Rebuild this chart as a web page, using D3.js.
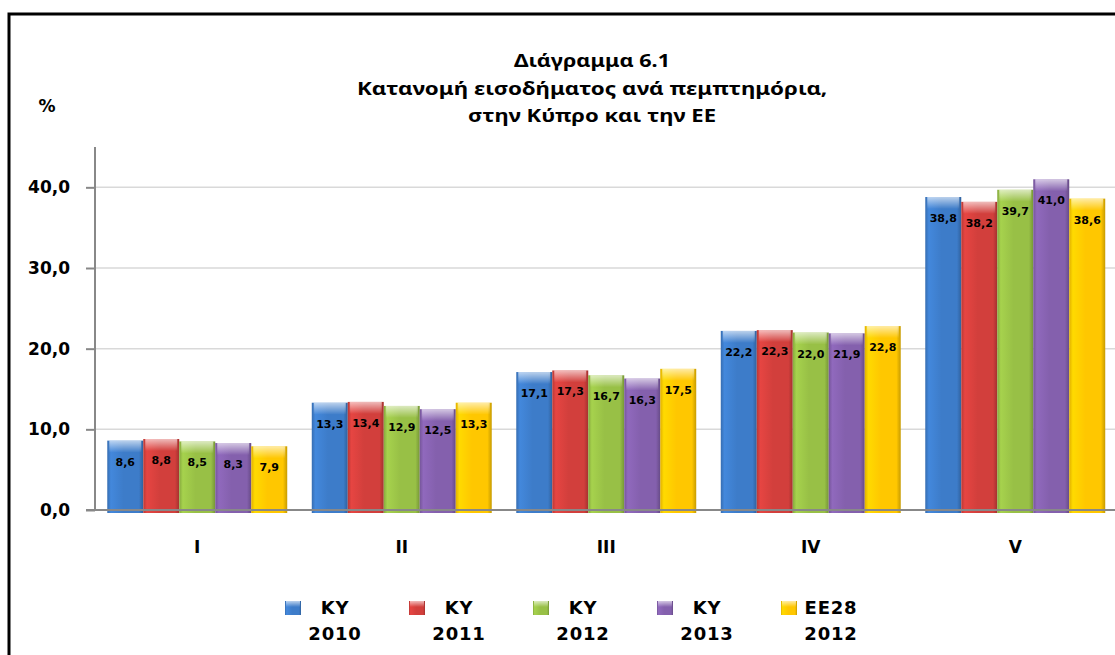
<!DOCTYPE html>
<html>
<head>
<meta charset="utf-8">
<script src="https://cdn.jsdelivr.net/npm/d3@7"></script>
<style>
  body { margin: 0; background: #fff; }
  text { font-family: "DejaVu Sans", sans-serif; font-weight: bold; fill: #000; }
  .title { font-family: "Noto Sans", sans-serif; }
</style>
</head>
<body>
<script>
// data
const categories = ["I", "II", "III", "IV", "V"];
const seriesNames = ["KY 2010", "KY 2011", "KY 2012", "KY 2013", "EE28 2012"];
const ky2010 = [8.6, 13.3, 17.1, 22.2, 38.8];
const ky2011 = [8.8, 13.4, 17.3, 22.3, 38.2];
const ky2012 = [8.5, 12.9, 16.7, 22.0, 39.7];
const ky2013 = [8.3, 12.5, 16.3, 21.9, 41.0];
const ee2012 = [7.9, 13.3, 17.5, 22.8, 38.6];
const yTicks = [0, 10, 20, 30, 40];
const colors = ["#3d7cc9", "#d23f3c", "#98c046", "#8460ad", "#ffc700"];
const titleLines = ["Διάγραμμα 6.1", "Κατανομή  εισοδήματος ανά πεμπτημόρια,", "στην Κύπρο και την ΕΕ"];

const allSeries = [ky2010, ky2011, ky2012, ky2013, ee2012];

const width = 1115, height = 655;
const plot = {left: 95, right: 1117.5, top: 147, bottom: 510};

const svg = d3.select("body").append("svg")
    .attr("width", width).attr("height", height);

// frame (runs off the right/bottom of the picture)
svg.append("rect")
    .attr("x", 9).attr("y", 14).attr("width", 1130).attr("height", 700)
    .attr("fill", "#fff").attr("stroke", "#000").attr("stroke-width", 3);

const x0 = d3.scaleBand().domain(categories)
    .range([plot.left, plot.right]).paddingInner(0.12).paddingOuter(0.06);
const x1 = d3.scaleBand().domain(seriesNames).range([0, x0.bandwidth()]);
const y = d3.scaleLinear().domain([0, 45]).range([plot.bottom, plot.top]);

const fmt = v => d3.format(".1f")(v).replace(".", ",");

// gradients for the bevelled bars
const defs = svg.append("defs");
colors.forEach((c, i) => {
    const g = defs.append("linearGradient").attr("id", "side" + i)
        .attr("x1", "0").attr("x2", "1").attr("y1", "0").attr("y2", "0");
    g.append("stop").attr("offset", "0%").attr("stop-color", d3.color(c).darker(0.35));
    g.append("stop").attr("offset", "10%").attr("stop-color", d3.color(c).brighter(0.25));
    g.append("stop").attr("offset", "45%").attr("stop-color", c);
    g.append("stop").attr("offset", "88%").attr("stop-color", c);
    g.append("stop").attr("offset", "100%").attr("stop-color", d3.color(c).darker(0.7));
});
const cap = defs.append("linearGradient").attr("id", "cap")
    .attr("x1", "0").attr("x2", "0").attr("y1", "0").attr("y2", "1");
cap.append("stop").attr("offset", "0%").attr("stop-color", "#fff").attr("stop-opacity", 0.65);
cap.append("stop").attr("offset", "100%").attr("stop-color", "#fff").attr("stop-opacity", 0);

// title
svg.append("g").selectAll("text").data(titleLines).join("text")
    .attr("class", "title")
    .attr("x", 592).attr("y", (d, i) => 67 + i * 27.5)
    .attr("text-anchor", "middle")
    .attr("font-size", 17)
    .attr("textLength", (d, i) => [156, 470, 248][i])
    .attr("lengthAdjust", "spacingAndGlyphs")
    .text(d => d);

svg.append("text").attr("x", 47).attr("y", 112)
    .attr("text-anchor", "middle").attr("font-size", 17).text("%");

// gridlines
svg.append("g").selectAll("line").data(yTicks.filter(d => d > 0)).join("line")
    .attr("x1", plot.left).attr("x2", plot.right)
    .attr("y1", d => y(d)).attr("y2", d => y(d))
    .attr("stroke", "#d9d9d9").attr("stroke-width", 1.5);

// y axis
const yAxis = svg.append("g")
    .attr("transform", `translate(${plot.left},0)`)
    .call(d3.axisLeft(y).tickValues(yTicks).tickSize(9).tickPadding(16).tickFormat(fmt));
yAxis.select(".domain").remove();
yAxis.selectAll(".tick line").attr("stroke", "#888").attr("stroke-width", 2);
yAxis.selectAll(".tick text")
    .attr("font-size", 17).attr("font-family", "DejaVu Sans, sans-serif")
    .attr("font-weight", "bold").attr("fill", "#000");
svg.append("line")
    .attr("x1", plot.left).attr("x2", plot.left)
    .attr("y1", plot.top).attr("y2", plot.bottom)
    .attr("stroke", "#888").attr("stroke-width", 2);

// bars
const groups = svg.append("g").selectAll("g").data(categories).join("g")
    .attr("transform", d => `translate(${x0(d)},0)`);

const barData = (cat, ci) => allSeries.map((s, si) => ({name: seriesNames[si], si, v: s[ci]}));

const bars = groups.selectAll("g").data((d, ci) => barData(d, ci)).join("g");
bars.append("rect")
    .attr("x", d => x1(d.name)).attr("width", x1.bandwidth())
    .attr("y", d => y(d.v)).attr("height", d => y(0) - y(d.v) + 3)
    .attr("fill", d => `url(#side${d.si})`);
bars.append("rect")
    .attr("x", d => x1(d.name) + 2).attr("width", x1.bandwidth() - 4)
    .attr("y", d => y(d.v)).attr("height", 12)
    .attr("fill", "url(#cap)");
bars.append("text")
    .attr("x", d => x1(d.name) + x1.bandwidth() / 2)
    .attr("y", d => y(d.v) + 25)
    .attr("text-anchor", "middle").attr("font-size", 11)
    .text(d => fmt(d.v));

// x axis
svg.append("line")
    .attr("x1", 86).attr("x2", plot.right)
    .attr("y1", y(0)).attr("y2", y(0))
    .attr("stroke", "#888").attr("stroke-width", 2);
svg.append("g").selectAll("text").data(categories).join("text")
    .attr("x", d => x0(d) + x0.bandwidth() / 2).attr("y", 553)
    .attr("text-anchor", "middle").attr("font-size", 17)
    .text(d => d);

// legend
const legend = svg.append("g").selectAll("g").data(seriesNames).join("g")
    .attr("transform", (d, i) => `translate(${285 + i * 124},0)`);
legend.append("rect")
    .attr("x", 0).attr("y", 601).attr("width", 16).attr("height", 14)
    .attr("fill", (d, i) => `url(#side${i})`);
legend.append("rect")
    .attr("x", 1).attr("y", 601).attr("width", 14).attr("height", 6)
    .attr("fill", "url(#cap)");
legend.append("text")
    .attr("text-anchor", "middle").attr("font-size", 18)
    .attr("letter-spacing", 0.8)
    .selectAll("tspan").data(d => d.split(" ")).join("tspan")
    .attr("x", 50).attr("y", (d, i) => 614 + i * 26)
    .text(d => d);
</script>
</body>
</html>
